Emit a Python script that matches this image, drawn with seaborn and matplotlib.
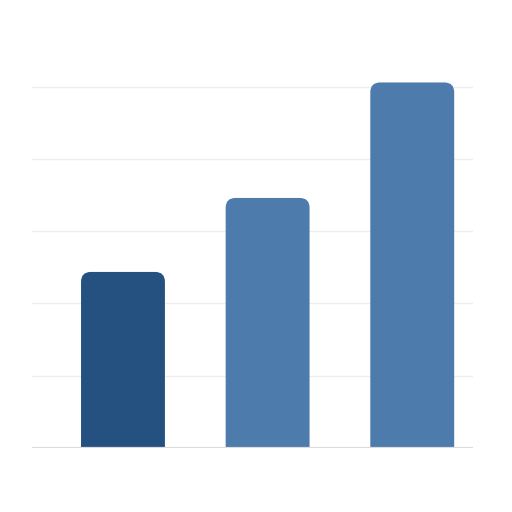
import matplotlib
matplotlib.use("Agg")
import matplotlib.pyplot as plt
from matplotlib.patches import FancyBboxPatch
import seaborn as sns
import pandas as pd

categories = ["A", "B", "C"]
values = [48.7, 69.2, 101.2]
bar_colors = ["#24517F", "#4C7BAC", "#4C7BAC"]
grid_ticks = [20, 40, 60, 80, 100]

sns.set_theme(style="white")
df = pd.DataFrame({"cat": categories, "val": values})

fig = plt.figure(figsize=(5.12, 5.12), dpi=100)
ax = fig.add_axes([32/512, 64.3/512, 441/512, 397/512])
sns.barplot(data=df, x="cat", y="val", hue="cat", palette=bar_colors,
            legend=False, width=0.58, ax=ax, saturation=1)

ax.set_xlim(-0.629, 2.42)
ax.set_ylim(0, 110)

# replace bars with rounded-top bars
for p in list(ax.patches):
    x, w, h = p.get_x(), p.get_width(), p.get_height()
    c = p.get_facecolor()
    p.remove()
    fb = FancyBboxPatch((x, -15), w, h + 15,
                        boxstyle="round,pad=0,rounding_size=0.068",
                        mutation_aspect=40, facecolor=c, edgecolor="none",
                        zorder=3, clip_on=True)
    ax.add_patch(fb)

for t in grid_ticks:
    ax.axhline(t, color="#EEEEEE", lw=1.0, zorder=1)
ax.axhline(0, color="#DCDCDC", lw=1.6, zorder=4)

ax.set_xticks([])
ax.set_yticks([])
ax.set_xlabel("")
ax.set_ylabel("")
for s in ax.spines.values():
    s.set_visible(False)

fig.savefig("out.png", dpi=100, facecolor="white")
